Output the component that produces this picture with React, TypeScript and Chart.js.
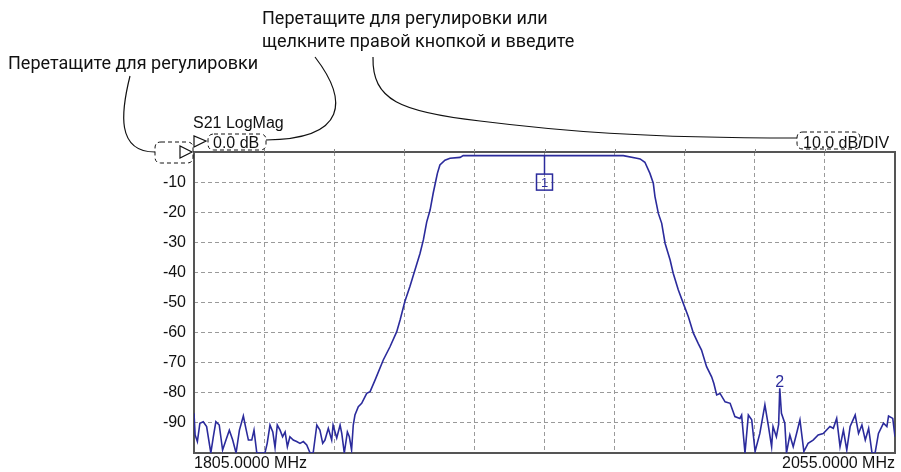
import React, { useEffect, useRef } from "react";
import { Chart, registerables } from "chart.js";

Chart.register(...registerables);

const freqMHz = [
  1805.0, 1805.4, 1806.2, 1807.1, 1808.3, 1809.5, 1811.0, 1811.9, 1812.8, 1814.0,
  1815.2, 1816.4, 1817.6, 1818.8, 1820.0, 1821.2, 1822.6, 1823.5, 1824.4, 1825.6,
  1826.4, 1827.4, 1830.3, 1831.1, 1832.1, 1833.1, 1833.9, 1834.7, 1835.7, 1836.6,
  1837.5, 1838.3, 1839.2, 1840.4, 1841.6, 1842.8, 1844.0, 1845.2, 1846.4, 1847.5,
  1848.8, 1849.9, 1850.9, 1851.7, 1852.9, 1854.1, 1854.6, 1855.9, 1857.1, 1857.7,
  1858.6, 1859.7, 1860.4, 1861.2, 1861.8, 1862.4,
  1863.6, 1864.8, 1866.6, 1867.8, 1869.6, 1872.5, 1874.9, 1877.3, 1878.5, 1880.2,
  1882.0, 1883.8, 1885.6, 1886.8, 1888.0, 1889.2, 1890.3, 1891.3, 1891.8, 1892.7,
  1894.5, 1896.3, 1899.9, 1901.0, 1914.1, 1930.2, 1946.2, 1958.1,
  1962.9, 1964.1, 1965.8, 1967.6, 1968.8, 1969.4, 1970.6, 1971.8, 1973.0, 1974.8,
  1975.9, 1977.7, 1979.5, 1981.3, 1983.1, 1984.8, 1986.0, 1987.8, 1989.6, 1990.4,
  1991.4, 1992.6, 1994.4, 1996.2, 1997.9,
  1999.7, 2000.3, 2001.5, 2002.7, 2003.9, 2005.1, 2006.8, 2008.6, 2009.8, 2011.0,
  2011.5, 2012.7, 2013.5, 2013.9, 2014.5, 2015.7, 2016.3, 2017.5, 2018.7, 2019.9,
  2021.1, 2022.5, 2024.0, 2025.8, 2027.6, 2029.4, 2031.8, 2033.0, 2034.2, 2035.4,
  2036.6, 2037.8, 2039.0, 2040.8, 2042.0, 2043.2, 2044.4, 2045.6, 2046.8, 2047.9,
  2049.1, 2050.9, 2052.1, 2052.7, 2054.2, 2055.0,
];

const s21dB = [
  -86.8, -94.0, -96.2, -90.1, -89.6, -91.2, -100.0, -94.6, -89.6, -90.7,
  -99.0, -95.7, -92.4, -95.7, -100.0, -92.4, -87.7, -91.8, -95.7, -95.7,
  -92.4, -100.0, -100.0, -96.8, -90.7, -93.0, -98.2, -90.7, -92.4, -94.6,
  -93.0, -97.9, -94.6, -95.7, -96.2, -96.8, -96.2, -97.3, -100.0, -100.0,
  -90.7, -92.4, -96.8, -95.7, -91.8, -95.7, -90.7, -95.0, -90.7, -93.5,
  -100.0, -93.0, -94.6, -99.0, -90.7, -87.4,
  -84.6, -83.5, -80.2, -79.6, -75.7, -69.1, -64.7, -59.7, -55.8, -49.7,
  -44.7, -39.2, -33.7, -29.2, -23.2, -19.3, -13.7, -9.3, -7.1, -4.3,
  -2.7, -2.1, -1.8, -1.2, -1.2, -1.2, -1.2, -1.2,
  -2.1, -2.3, -3.4, -7.1, -10.4, -14.8, -20.4, -23.7, -30.3, -35.9,
  -40.3, -45.8, -50.3, -54.7, -60.2, -63.6, -65.8, -71.3, -74.7, -76.9,
  -80.7, -80.2, -83.0, -83.5, -87.9,
  -88.5, -87.4, -100.0, -87.4, -89.0, -99.5, -93.5, -84.0, -90.7, -97.9,
  -91.2, -94.6, -90.5, -78.5, -86.8, -90.1, -100.0, -94.0, -97.9, -93.5,
  -89.0, -99.5, -96.8, -95.7, -94.0, -93.5, -91.2, -91.8, -88.5, -97.9,
  -92.4, -99.0, -91.2, -87.4, -93.5, -90.7, -95.7, -91.8, -100.0, -100.0,
  -93.5, -90.1, -91.2, -87.7, -88.5, -94.6,
];

const xTickValues = [1805, 1830, 1855, 1880, 1905, 1930, 1955, 1980, 2005, 2030, 2055];
const xEndLabels = ["1805.0000 MHz", "2055.0000 MHz"];
const yTickValues = [0, -10, -20, -30, -40, -50, -60, -70, -80, -90, -100];

const markerFreqs = [1930, 2013.9];
const markerTraceDb = [-1.2, -78.5];
const markerLabels = ["1", "2"];
const marker1BoxDb = -10;
const marker2LabelDb = -75;

const traceTitle = "S21 LogMag";
const refLevelText = "0.0 dB";
const scaleText = "10.0 dB";
const scaleSuffix = "/DIV";
const hintDrag = "Перетащите для регулировки";
const hintDragOrTypeLine1 = "Перетащите для регулировки или";
const hintDragOrTypeLine2 = "щелкните правой кнопкой и введите";

const TRACE = "#2b2b9c";
const AXIS_FONT = "'Liberation Sans', Arial, sans-serif";

function roundRect(ctx: CanvasRenderingContext2D, x: number, y: number, w: number, h: number, r: number) {
  ctx.beginPath();
  ctx.moveTo(x + r, y);
  ctx.lineTo(x + w - r, y);
  ctx.quadraticCurveTo(x + w, y, x + w, y + r);
  ctx.lineTo(x + w, y + h - r);
  ctx.quadraticCurveTo(x + w, y + h, x + w - r, y + h);
  ctx.lineTo(x + r, y + h);
  ctx.quadraticCurveTo(x, y + h, x, y + h - r);
  ctx.lineTo(x, y + r);
  ctx.quadraticCurveTo(x, y, x + r, y);
  ctx.closePath();
}

const framePlugin = {
  id: "frame",
  beforeDatasetsDraw(chart: any) {
    const { ctx, chartArea: a } = chart;
    const xs = chart.scales.x;
    ctx.save();
    ctx.strokeStyle = "#555555";
    ctx.lineWidth = 2;
    ctx.setLineDash([]);
    ctx.strokeRect(a.left, a.top, a.right - a.left, a.bottom - a.top);
    // small tick marks above the top border
    ctx.lineWidth = 1;
    ctx.strokeStyle = "#888";
    xTickValues.slice(1, -1).forEach((v) => {
      const px = Math.round(xs.getPixelForValue(v)) + 0.5;
      ctx.beginPath();
      ctx.moveTo(px, a.top - 3);
      ctx.lineTo(px, a.top);
      ctx.stroke();
    });
    ctx.restore();
  },
};

const annotationPlugin = {
  id: "annotations",
  afterDraw(chart: any) {
    const { ctx, chartArea: a } = chart;
    const xs = chart.scales.x;
    const ys = chart.scales.y;
    ctx.save();

    // markers
    ctx.strokeStyle = TRACE;
    ctx.fillStyle = TRACE;
    ctx.lineWidth = 1.5;
    const m1x = xs.getPixelForValue(markerFreqs[0]);
    const m1y = ys.getPixelForValue(markerTraceDb[0]);
    const b1y = ys.getPixelForValue(marker1BoxDb);
    ctx.beginPath();
    ctx.moveTo(m1x, m1y);
    ctx.lineTo(m1x, b1y - 8);
    ctx.stroke();
    ctx.strokeRect(m1x - 8, b1y - 8, 16, 16);
    ctx.font = `13px ${AXIS_FONT}`;
    ctx.textAlign = "center";
    ctx.textBaseline = "middle";
    ctx.fillText(markerLabels[0], m1x, b1y + 1);

    const m2x = xs.getPixelForValue(markerFreqs[1]);
    const m2y = ys.getPixelForValue(marker2LabelDb);
    ctx.font = `16px ${AXIS_FONT}`;
    ctx.textBaseline = "alphabetic";
    ctx.fillText(markerLabels[1], m2x, m2y + 9);

    // header texts
    ctx.fillStyle = "#111";
    ctx.textAlign = "left";
    ctx.font = `16px ${AXIS_FONT}`;
    ctx.fillText(traceTitle, a.left - 1, 128);
    ctx.fillText(refLevelText, 213, 148);
    ctx.fillText(scaleText, 803, 148);
    const w = ctx.measureText(scaleText).width;
    ctx.fillText(scaleSuffix, 803 + w, 148);

    // dashed boxes
    ctx.strokeStyle = "#111";
    ctx.lineWidth = 1;
    ctx.setLineDash([4, 3]);
    roundRect(ctx, 155, 142, 38, 21, 6);
    ctx.stroke();
    roundRect(ctx, 208, 134, 58, 16, 6);
    ctx.stroke();
    roundRect(ctx, 797, 132, 63, 17, 6);
    ctx.stroke();
    ctx.setLineDash([]);

    // triangles (ref markers)
    ctx.lineWidth = 1.2;
    ctx.beginPath();
    ctx.moveTo(180, 146);
    ctx.lineTo(180, 158);
    ctx.lineTo(192, 152);
    ctx.closePath();
    ctx.stroke();
    ctx.beginPath();
    ctx.moveTo(194, 136);
    ctx.lineTo(194, 147);
    ctx.lineTo(206, 141);
    ctx.closePath();
    ctx.stroke();

    // callout curves
    ctx.lineWidth = 1.2;
    ctx.beginPath();
    ctx.moveTo(130, 76);
    ctx.bezierCurveTo(121, 112, 116, 152, 155, 152);
    ctx.stroke();
    ctx.beginPath();
    ctx.moveTo(315, 57);
    ctx.bezierCurveTo(348, 100, 348, 139, 266, 140);
    ctx.stroke();
    ctx.beginPath();
    ctx.moveTo(373, 57);
    ctx.bezierCurveTo(372, 100, 400, 112, 480, 121);
    ctx.bezierCurveTo(560, 131, 640, 138, 797, 138);
    ctx.stroke();

    // hint texts
    ctx.fillStyle = "#111";
    ctx.font = "18px Roboto, 'Noto Sans', sans-serif";
    ctx.fillText(hintDragOrTypeLine1, 262, 24);
    ctx.fillText(hintDragOrTypeLine2, 262, 47);
    ctx.fillText(hintDrag, 8, 69);

    ctx.restore();
  },
};

export default function App() {
  const canvasRef = useRef<HTMLCanvasElement | null>(null);

  useEffect(() => {
    if (!canvasRef.current) return;
    const points = freqMHz.map((f, i) => ({ x: f, y: s21dB[i] }));
    const chart = new Chart(canvasRef.current, {
      type: "line",
      data: {
        datasets: [
          {
            data: points,
            borderColor: TRACE,
            borderWidth: 1.6,
            pointRadius: 0,
            tension: 0,
            fill: false,
          },
        ],
      },
      plugins: [framePlugin, annotationPlugin],
      options: {
        animation: false,
        responsive: false,
        events: [],
        layout: { padding: { left: 0, right: 6, top: 152, bottom: 0 } },
        plugins: { legend: { display: false }, tooltip: { enabled: false } },
        scales: {
          x: {
            type: "linear",
            min: 1805,
            max: 2055,
            afterBuildTicks: (axis: any) => {
              axis.ticks = xTickValues.map((v) => ({ value: v }));
            },
            afterFit: (scale: any) => {
              scale.height = 19;
            },
            grid: { color: "#9a9a9a", lineWidth: 1, drawTicks: false },
            border: { display: false, dash: [4, 3] },
            ticks: {
              autoSkip: false,
              maxRotation: 0,
              align: "inner",
              padding: 1,
              color: "#111",
              font: { family: AXIS_FONT, size: 16 },
              callback: (v: any) =>
                v === xTickValues[0] ? xEndLabels[0] : v === xTickValues[xTickValues.length - 1] ? xEndLabels[1] : "",
            },
          },
          y: {
            type: "linear",
            min: -100,
            max: 0,
            afterBuildTicks: (axis: any) => {
              axis.ticks = yTickValues.map((v) => ({ value: v }));
            },
            afterFit: (scale: any) => {
              scale.width = 194;
            },
            grid: { color: "#9a9a9a", lineWidth: 1, drawTicks: false },
            border: { display: false, dash: [4, 3] },
            ticks: {
              padding: 8,
              color: "#111",
              font: { family: AXIS_FONT, size: 16 },
              callback: (v: any) => (v === 0 || v === -100 ? "" : String(v)),
            },
          },
        },
      } as any,
    });
    return () => chart.destroy();
  }, []);

  return (
    <canvas
      ref={canvasRef}
      width={901}
      height={472}
      style={{ position: "absolute", left: 0, top: 0, display: "block" }}
    />
  );
}
